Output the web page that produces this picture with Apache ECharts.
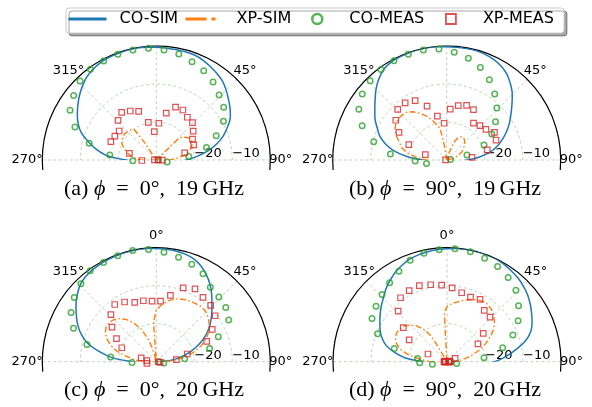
<!DOCTYPE html>
<html><head><meta charset="utf-8">
<script src="https://cdn.jsdelivr.net/npm/echarts@6/dist/echarts.min.js"></script>
<style>html,body{margin:0;padding:0;background:#fff}#c{width:592px;height:407px}</style>
</head><body><div id="c"></div>
<script>
// ---------- data (angle in degrees, clockwise from broadside; value in dB) ----------
const simAngles = [-100,-95,-90,-85,-80,-75,-70,-65,-60,-55,-50,-45,-40,-35,-30,-25,-20,-15,-10,-5,0,5,10,15,20,25,30,35,40,45,50,55,60,65,70,75,80,85,90,95,100];
const coSimA = [-28,-25,-22,-17,-14,-11.5,-9,-7.3,-6,-4.8,-3.6,-2.5,-1.5,-0.9,-0.5,-0.3,-0.2,-0.1,-0.1,-0.2,-0.3,-0.4,-0.5,-0.5,-0.6,-1.0,-1.6,-2.2,-2.9,-4.0,-5.2,-6.3,-7.5,-9.3,-11.2,-13.5,-16.2,-19.2,-22,-25,-28];
const coSimB = [-29,-26.5,-23.5,-19.5,-15.8,-13.2,-11.2,-9.8,-8.2,-6.9,-5.4,-3.7,-2.2,-1.0,-0.4,-0.2,-0.1,0,0,-0.1,-0.2,-0.2,-0.2,-0.2,-0.4,-0.8,-1.4,-2.4,-3.9,-5.6,-7.6,-9.4,-11,-12.7,-14.5,-16.3,-18.5,-21.5,-24.5,-27,-29];
const coSimC = [-28.5,-26,-23.4,-18.5,-14.8,-11.3,-9.0,-7.2,-5.7,-4.2,-2.8,-1.6,-0.9,-0.6,-0.4,-0.3,-0.2,-0.15,-0.1,-0.1,-0.2,-0.3,-0.4,-0.7,-1.2,-2.2,-3.6,-5.3,-7.3,-9.3,-11.0,-12.7,-14.5,-16.6,-18.9,-21.3,-23.8,-26.3,-28.2,-29.3,-30];
const coSimD = [-28,-25.5,-23.5,-19,-16,-13.4,-11.8,-10.6,-9.6,-8.5,-7.4,-6.3,-5.0,-3.9,-2.8,-2.0,-1.3,-0.9,-0.6,-0.4,-0.3,-0.1,0,0,0,0,-0.3,-0.7,-1.1,-1.7,-2.4,-3.3,-4.3,-5.3,-6.5,-8.6,-11.6,-14.5,-17.5,-21.8,-26];

const xpSimAngA = [-100,-95,-90,-85,-80,-75,-70,-65,-60,-55,-50,-45,-40,-36,-34,-32,44,46,48,52,56,60,65,70,75,80,85,90,95,100];
const xpSimA = [-30,-28,-26,-24.5,-23,-22,-21,-20,-19.6,-19.3,-19.2,-19.4,-19.6,-20,-24,-30,-30,-22,-21,-20.3,-19.6,-19.4,-19.6,-20.1,-21,-22.5,-24.5,-26.5,-28.5,-30];
const xpSimAngB = [-100,-95,-90,-85,-80,-75,-70,-65,-60,-55,-50,-45,-40,-35,-30,-25,-20,-15,-12,-10,-8,-7,15,18,22,27,33,40,47,55,62,70,78,85];
const xpSimB = [-28.5,-26.5,-24.5,-22,-19.4,-17.8,-16.8,-15.5,-14.3,-13.6,-13.3,-13.3,-13.6,-14.5,-15.8,-17.2,-18.8,-20.6,-21.5,-25,-28.5,-30,-30,-28,-25,-23.2,-22.7,-22.8,-23.5,-24.5,-25.5,-27,-28.5,-30];
const xpSimAngC = [-100,-95,-90,-85,-80,-75,-70,-65,-60,-55,-50,-45,-40,-35,-30,-25,-20,-17,-15,-13,-5,-4,0,5,10,15,20,25,30,35,40,45,50,55,60,65,70,75,80,85,90,95,100];
const xpSimC = [-29.5,-28,-26.5,-24.3,-22,-19.2,-17.2,-15.6,-14.5,-13.9,-13.9,-14.3,-15.2,-16.5,-18.3,-20.5,-23.5,-26,-28,-30,-30,-19.5,-16.5,-15,-13.8,-13,-12.4,-12,-11.7,-11.5,-11.3,-11.5,-12.1,-13,-14,-15.5,-17.3,-19.5,-22,-25,-27.5,-29.5,-30];
const xpSimAngD = [-100,-95,-90,-85,-80,-75,-70,-65,-60,-55,-50,-45,-40,-35,-32,-31,-30,-4,-3.5,-3,0,5,10,15,20,25,30,35,40,45,50,55,60,65,70,75,80,85,90,95];
const xpSimD = [-29.5,-27.5,-25.5,-23,-19.7,-17.2,-15.8,-15,-14.7,-14.9,-15.4,-16.3,-17.7,-19.8,-22,-25,-30,-30,-24,-17,-15.5,-14.6,-14,-13.3,-12.6,-12,-11.6,-11.5,-11.9,-12.6,-13.7,-15,-16.8,-18.8,-20.8,-23,-25,-27,-28.5,-30];

const measAngles = [-100,-92,-84,-76,-68,-60,-52,-44,-36,-28,-20,-12,-4,4,12,20,28,36,44,52,60,68,76,84,92,100];
const coMeasA = [null,-23.8,-17.7,-11.8,-6.9,-3.8,-2.4,-1.1,-0.5,-0.5,-0.4,-0.4,-0.5,-1.0,-1.5,-2.5,-3.4,-4.6,-6.2,-7.5,-9.6,-13.0,-16.4,-21.4,-29.5,-27.1];
const xpMeasA = [null,-26.2,-29.5,-22.7,-17.1,-17.4,-17.6,-15.5,-14.5,-15.4,-16.4,-19.9,-22.5,-20.3,-17.4,-15.2,-15.1,-16.1,-16.3,-17.7,-19.0,-19.4,-22.3,-29.5,-28.4,null];
const coMeasB = [-24.6,-21.7,-15.1,-10.2,-6.0,-3.3,-1.8,-1.0,-0.6,-0.45,-0.4,-0.4,-0.7,-1.6,-2.6,-4.1,-6.1,-8.5,-11.0,-13.7,-16.3,-19.4,-24.5,-29,null,null];
const xpMeasB = [null,null,-29.7,-24.2,-19.25,-15.5,-13.0,-11.45,-11.4,-12.3,-14.9,-18.2,-20.3,-16.6,-15.35,-14.7,-15.0,-18.0,-17.4,-16.9,-15.5,-16.0,-19.0,-23.3,null,null];
const coMeasC = [null,-23.6,-17.9,-11.2,-6.5,-4.1,-2.6,-1.45,-0.4,-0.4,-0.3,-0.1,-0.4,-1.1,-1.9,-2.7,-3.8,-5.8,-6.3,-6.8,-8.0,-12.4,-15.55,-22.5,-29.3,-28];
const xpMeasC = [-27.5,null,-27.5,-25.9,-20.2,-17.9,-15.2,-12.8,-11.4,-12.2,-13.4,-13.6,-14.0,-14.0,-12.15,-9.35,-8.3,-9.1,-9.4,-10.35,-13.0,-15.7,-21.6,-24.7,-29.5,-29];
const coMeasD = [-26.1,-22.8,-22.2,-15.7,-10.3,-7.2,-6.3,-5.4,-4.3,-3.05,-1.6,-0.85,-0.5,-0.2,-0.4,-1.05,-1.65,-2.6,-3.9,-6.1,-8.4,-11.3,-14.9,-20.2,-29,-27.4];
const xpMeasD = [-29.5,-29.2,-29.6,-29.3,-24.6,-18.5,-15.4,-11.5,-9.2,-8.8,-8.7,-9.3,-9.8,-10.5,-11.45,-11.9,-11.45,-13.3,-13.7,-17.9,-20.6,-27.7,-29.4,-29.6,-29.2,-29.5];

const radiusTicks = [-30, -20, -10, 0];
const angleTicks = [-90, -45, 0, 45, 90];
const captions = ['(a) {i|\u03d5}\u2002=\u20020°,\u200219\u2009GHz', '(b) {i|\u03d5}\u2002=\u200290°,\u200219\u2009GHz', '(c) {i|\u03d5}\u2002=\u20020°,\u200220\u2009GHz', '(d) {i|\u03d5}\u2002=\u200290°,\u200220\u2009GHz'];
const seriesNames = ['CO-SIM', 'XP-SIM', 'CO-MEAS', 'XP-MEAS'];

// ---------- layout ----------
const panels = [
  {center: [156.3, 160], cap: [154, 189], top: true, co: coSimA, xpA: xpSimAngA, xp: xpSimA, cm: coMeasA, xm: xpMeasA},
  {center: [446.7, 160], cap: [445, 189], top: true, co: coSimB, xpA: xpSimAngB, xp: xpSimB, cm: coMeasB, xm: xpMeasB},
  {center: [156.3, 361.7], cap: [154, 390], top: false, co: coSimC, xpA: xpSimAngC, xp: xpSimC, cm: coMeasC, xm: xpMeasC},
  {center: [447, 361.7], cap: [445, 390], top: false, co: coSimD, xpA: xpSimAngD, xp: xpSimD, cm: coMeasD, xm: xpMeasD}
];
const R = 114;
const gridColor = 'rgba(125,160,125,0.6)';
const FONT = 'DejaVu Sans';
const lbl = {fontFamily: FONT, fontSize: 13, color: '#000'};
const angleRich = {
  t0: Object.assign({padding: [0, 0, 18, 0]}, lbl),
  t315: Object.assign({padding: [0, 0, 11, 0]}, lbl),
  t45: Object.assign({padding: [0, 0, 11, 5]}, lbl),
  t270: Object.assign({padding: [0, 11.5, 0, 0]}, lbl),
  t90: Object.assign({padding: [0, 0, 0, 11]}, lbl)
};

const polar = [], angleAxis = [], radiusAxis = [], series = [], graphic = [];
const toPolar = (vals, angs) => vals.map((v, k) => v == null ? null : [v, -angs[k]]).filter(d => d);

panels.forEach((p, i) => {
  polar.push({center: p.center, radius: R});
  angleAxis.push({
    polarIndex: i, type: 'value', min: angleTicks[0], max: angleTicks[angleTicks.length - 1], interval: 45,
    startAngle: 0, endAngle: 180, clockwise: false, z: 1,
    axisLine: {show: false}, axisTick: {show: false},
    axisLabel: {
      show: true, margin: -12, fontFamily: FONT, fontSize: 13, color: '#000', rich: angleRich,
      formatter: v => { const d = ((-v) + 360) % 360; if (p.top && d === 0) return ''; return '{t' + d + '|' + d + '°}'; }
    },
    splitLine: {show: true, lineStyle: {color: gridColor, width: 0.8, type: [3, 2.5]}}
  });
  radiusAxis.push({
    polarIndex: i, type: 'value', min: radiusTicks[0], max: radiusTicks[radiusTicks.length - 1], interval: 10, z: 1,
    axisLine: {show: false}, axisTick: {show: false},
    axisLabel: {
      show: true, margin: 0, align: 'left', verticalAlign: 'bottom',
      fontFamily: FONT, fontSize: 13, color: '#000',
      formatter: v => (v === -20 || v === -10) ? '\u2212' + Math.abs(v) : ''
    },
    splitLine: {show: true, lineStyle: {color: gridColor, width: 0.8, type: [3, 2.5]}}
  });
  series.push({
    name: seriesNames[0], type: 'line', coordinateSystem: 'polar', polarIndex: i,
    data: toPolar(p.co, simAngles), symbol: 'none', smooth: 0.3,
    lineStyle: {color: '#1f77b4', width: 1.5}, itemStyle: {color: '#1f77b4'}, z: 3
  });
  series.push({
    name: seriesNames[1], type: 'line', coordinateSystem: 'polar', polarIndex: i,
    data: toPolar(p.xp, p.xpA), symbol: 'none',
    lineStyle: {color: '#ff7f0e', width: 1.4, type: [6, 2.5, 1.5, 2.5]}, itemStyle: {color: '#ff7f0e'}, z: 3
  });
  series.push({
    name: seriesNames[2], type: 'scatter', coordinateSystem: 'polar', polarIndex: i,
    data: toPolar(p.cm, measAngles), symbol: 'circle', symbolSize: 5.5,
    itemStyle: {color: 'rgba(0,0,0,0)', borderColor: '#2ca02c', borderWidth: 1.5}, z: 4
  });
  series.push({
    name: seriesNames[3], type: 'scatter', coordinateSystem: 'polar', polarIndex: i,
    data: toPolar(p.xm, measAngles), symbol: 'rect', symbolSize: 5.5,
    itemStyle: {color: 'rgba(0,0,0,0)', borderColor: '#d62728', borderWidth: 1.2}, z: 4
  });
  graphic.push({
    type: 'text', x: p.cap[0], y: p.cap[1], z: 10,
    style: {
      text: captions[i], align: 'center', verticalAlign: 'middle',
      fontFamily: 'Liberation Serif', fontSize: 22, fill: '#000',
      rich: {i: {fontStyle: 'italic', fontFamily: 'Liberation Serif', fontSize: 22, fill: '#000'}}
    }
  });
});
// outer frame arcs (slightly wider than the data range, like the reference)
panels.forEach((p, i) => {
  polar.push({center: p.center, radius: R});
  angleAxis.push({
    polarIndex: 4 + i, type: 'value', min: 0, max: 1, startAngle: -5, endAngle: 185, clockwise: false, z: 2,
    axisLine: {show: true, lineStyle: {color: '#000', width: 1.2}},
    axisTick: {show: false}, axisLabel: {show: false}, splitLine: {show: false}
  });
  radiusAxis.push({polarIndex: 4 + i, type: 'value', min: 0, max: 1, show: false});
});

// legend frame (box with drop shadow) behind the legend entries
graphic.push({
  type: 'rect', z: 15, silent: true,
  shape: {x: 66, y: 8, width: 498, height: 25, r: 3},
  style: {fill: '#fff', stroke: '#cccccc', lineWidth: 1, shadowColor: 'rgba(0,0,0,0.35)', shadowOffsetX: 3, shadowOffsetY: 3, shadowBlur: 0}
});
const legendItems = [
  {left: 67, item: {name: 'CO-SIM', lineStyle: {width: 3}, itemStyle: {color: 'rgba(0,0,0,0)', borderWidth: 0, opacity: 0}}},
  {left: 184, item: {name: 'XP-SIM', lineStyle: {width: 3, type: [21, 5, 4, 12]}, itemStyle: {color: 'rgba(0,0,0,0)', borderWidth: 0, opacity: 0}}},
  {left: 311, item: {name: 'CO-MEAS', icon: 'path://M0,5A5,5,0,1,0,10,5A5,5,0,1,0,0,5Z', itemStyle: {borderWidth: 2.5}}},
  {left: 445, item: {name: 'XP-MEAS', icon: 'path://M0,0L10,0L10,10L0,10Z', itemStyle: {borderWidth: 1.8}}}
];
const legend = legendItems.map(l => ({
  left: l.left, top: 11, z: 20, selectedMode: false, padding: 0,
  itemWidth: 38, itemHeight: 10, symbolKeepAspect: true,
  formatter: name => '\u2002' + name,
  textStyle: {fontSize: 16, fontFamily: FONT, color: '#000'},
  data: [l.item]
}));

const chart = echarts.init(document.getElementById('c'), null, {renderer: 'canvas'});
chart.setOption({
  animation: false,
  backgroundColor: '#fff',
  textStyle: {fontFamily: FONT},
  polar, angleAxis, radiusAxis, series, graphic, legend
});
</script></body></html>
